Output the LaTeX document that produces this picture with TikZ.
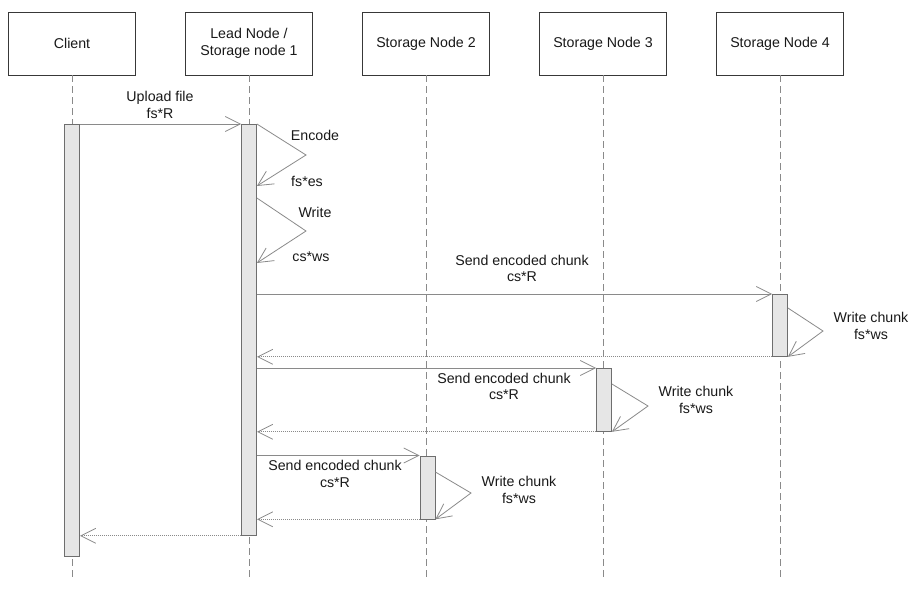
\documentclass[tikz,border=0pt]{standalone}
\usepackage{fontspec}
\setmainfont{Liberation Sans}
\usetikzlibrary{arrows.meta}
\definecolor{msgline}{HTML}{8A8A8A}
\definecolor{boxline}{HTML}{383838}
\definecolor{barfill}{HTML}{E6E6E6}
\definecolor{barline}{HTML}{6E6E6E}
\begin{document}
\begin{tikzpicture}[x=1pt,y=-1pt,
  every node/.style={font=\fontsize{14.2}{16.5}\selectfont, inner sep=0pt, text=black!90},
  actor/.style={draw=boxline, line width=0.8pt, minimum width=127pt, minimum height=63pt, align=center, fill=white},
  lifeline/.style={draw=msgline, dash pattern=on 7pt off 4pt, line width=0.7pt},
  activation/.style={draw=barline, fill=barfill, line width=0.8pt, minimum width=15pt, anchor=north},
  msg/.style={draw=msgline, line width=0.8pt, -{Straight Barb[length=15pt,width=15pt,line width=0.8pt]}},
  reply/.style={msg, dash pattern=on 1pt off 1pt},
  lbl/.style={align=center}
]
% canvas
\fill[white] (0,0) rectangle (921,591);
\useasboundingbox (0,0) rectangle (921,591);

% participants
\node[actor] (client) at (72,43.5) {Client};
\node[actor] (lead)   at (249,43.5) {Lead Node /\\Storage node 1};
\node[actor] (sn2)    at (426,43.5) {Storage Node 2};
\node[actor] (sn3)    at (603,43.5) {Storage Node 3};
\node[actor] (sn4)    at (780,43.5) {Storage Node 4};

% lifelines
\coordinate (clientend) at (72,580);
\coordinate (leadend)   at (249,580);
\coordinate (sn2end)    at (426,580);
\coordinate (sn3end)    at (603,580);
\coordinate (sn4end)    at (780,580);
\draw[lifeline] (client.south) -- (clientend);
\draw[lifeline] (lead.south) -- (leadend);
\draw[lifeline] (sn2.south) -- (sn2end);
\draw[lifeline] (sn3.south) -- (sn3end);
\draw[lifeline] (sn4.south) -- (sn4end);

% activation bars
\node[activation, minimum height=432pt] (clientbar) at (72,124) {};
\node[activation, minimum height=411pt] (leadbar)   at (249,124) {};
\node[activation, minimum height=62pt]  (sn4bar)    at (780,294) {};
\node[activation, minimum height=63pt]  (sn3bar)    at (604,368) {};
\node[activation, minimum height=63pt]  (sn2bar)    at (427.5,455.5) {};

% message levels and turning points
\coordinate (encret)  at (0,186);
\coordinate (enctip)  at (306,155);
\coordinate (wrout)   at (0,198);
\coordinate (wrtip)   at (306,231);
\coordinate (wrret)   at (0,263);
\coordinate (sn4out)  at (0,308);
\coordinate (sn4tip)  at (823,331);
\coordinate (sn3out)  at (0,384);
\coordinate (sn3tip)  at (648,406);
\coordinate (sn2out)  at (0,472);
\coordinate (sn2tip)  at (471,493);

% upload
\draw[msg] (clientbar.north east) -- (leadbar.north west);
\node[lbl] (uplbl) at (160,105) {Upload file\\fs*R};

% encode and write on the lead node
\draw[msg] (leadbar.north east) -- (enctip) -- (leadbar.east |- encret);
\node (enclbl) at (315,135) {Encode};
\node (enccost) at (307,181) {fs*es};
\draw[msg] (leadbar.east |- wrout) -- (wrtip) -- (leadbar.east |- wrret);
\node (wrlbl) at (315,212) {Write};
\node (wrcost) at (311,257) {cs*ws};

% chunk to storage node 4
\draw[msg] (leadbar.east |- sn4bar.north) -- (sn4bar.north west);
\node[lbl] (s4lbl) at (522,268.5) {Send encoded chunk\\cs*R};
\draw[msg] (sn4bar.east |- sn4out) -- (sn4tip) -- (sn4bar.south east);
\node[lbl] (w4lbl) at (871,326) {Write chunk\\fs*ws};
\draw[reply] (sn4bar.south west) -- (leadbar.east |- sn4bar.south);

% chunk to storage node 3
\draw[msg] (leadbar.east |- sn3bar.north) -- (sn3bar.north west);
\node[lbl] (s3lbl) at (504,386.5) {Send encoded chunk\\cs*R};
\draw[msg] (sn3bar.east |- sn3out) -- (sn3tip) -- (sn3bar.south east);
\node[lbl] (w3lbl) at (696,400) {Write chunk\\fs*ws};
\draw[reply] (sn3bar.south west) -- (leadbar.east |- sn3bar.south);

% chunk to storage node 2
\draw[msg] (leadbar.east |- sn2bar.north) -- (sn2bar.north west);
\node[lbl] (s2lbl) at (335,474) {Send encoded chunk\\cs*R};
\draw[msg] (sn2bar.east |- sn2out) -- (sn2tip) -- (sn2bar.south east);
\node[lbl] (w2lbl) at (519,490) {Write chunk\\fs*ws};
\draw[reply] (sn2bar.south west) -- (leadbar.east |- sn2bar.south);

% final reply to the client
\draw[reply] (leadbar.south west) -- (clientbar.east |- leadbar.south);
\end{tikzpicture}
\end{document}
